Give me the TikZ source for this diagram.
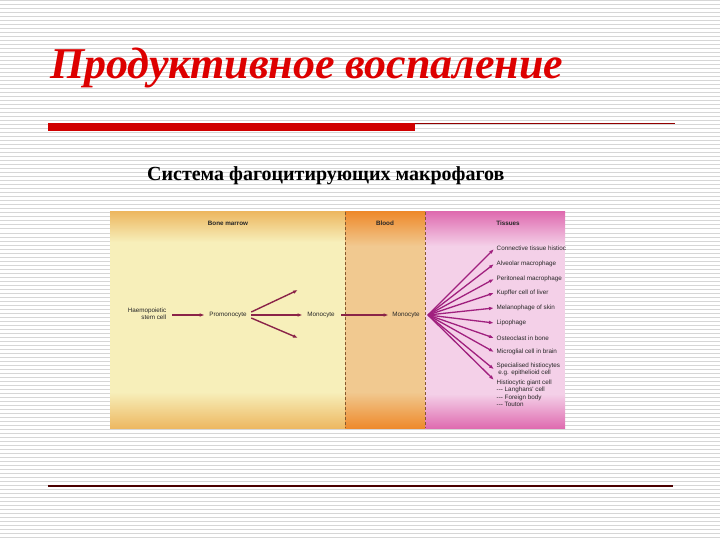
\documentclass[tikz,border=0pt]{standalone}
\usepackage{fontspec}
\setmainfont{Liberation Serif}
\newfontfamily\labelfont{Liberation Sans}
\usetikzlibrary{positioning,arrows.meta}
\definecolor{titlered}{HTML}{DD0000}
\definecolor{barred}{HTML}{D00000}
\definecolor{marrow}{HTML}{F7EFBA}
\definecolor{marrowedge}{HTML}{EDB862}
\definecolor{blood}{HTML}{F1C990}
\definecolor{bloodedge}{HTML}{EE8A2C}
\definecolor{tissue}{HTML}{F4D0E8}
\definecolor{tissueedge}{HTML}{DF6CB0}
\definecolor{arrowred}{HTML}{8A2348}
\definecolor{fanpurple}{HTML}{A0207E}
\tikzset{
  stripe/.style={draw=black!16, line width=1pt},
  lbl/.style={font=\labelfont\fontsize{6.3}{7.4}\selectfont, inner sep=0.5pt, text=black!85},
  zonehead/.style={lbl, font=\labelfont\bfseries\fontsize{6.3}{7.4}\selectfont},
  cellarrow/.style={-{Latex[length=5pt,width=3.6pt]}, line width=1.4pt, draw=arrowred},
  fanarrow/.style={-{Latex[length=5pt,width=3.6pt]}, line width=1.3pt, draw=fanpurple},
  zoneline/.style={draw=brown!70!black, densely dashed, line width=0.5pt}
}
\begin{document}
\begin{tikzpicture}[x=1pt,y=-1pt]
\useasboundingbox (0,0) rectangle (720,540);
\fill[white] (0,0) rectangle (720,540);
\foreach \y in {1,5,...,540}
  \draw[stripe] (0,\y) -- (720,\y);       % фон в полоску

\node[anchor=base west, text=titlered, inner sep=0,
  font=\fontsize{44}{48}\selectfont\bfseries\itshape] (title) at (50,79) {Продуктивное воспаление};
\fill[barred] (48,123) rectangle (415,131);
\draw[barred!70!black, line width=0.8pt] (415,123.5) -- (675,123.5);
\draw[black!70!red, line width=1.2pt] (48,486) -- (673,486);   % линии

\node[anchor=base west, inner sep=0, font=\fontsize{20}{22}\selectfont\bfseries] (subtitle) at (147,181)
  {Система фагоцитирующих макрофагов};

% зоны
\begin{scope}
\clip (110,212) rectangle (565,428);
\fill[marrow] (110,212) rectangle (345,428);
\shade[top color=marrowedge, bottom color=marrow] (110,212) rectangle (345,242);
\shade[top color=marrow, bottom color=marrowedge] (110,392) rectangle (345,428);
\fill[blood] (345,212) rectangle (425,428);
\shade[top color=bloodedge, bottom color=blood] (345,212) rectangle (425,246);
\shade[top color=blood, bottom color=bloodedge] (345,392) rectangle (425,428);
\fill[tissue] (425,212) rectangle (565,428);
\shade[top color=tissueedge, bottom color=tissue] (425,212) rectangle (565,246);
\shade[top color=tissue, bottom color=tissueedge] (425,394) rectangle (565,428);
\draw[zoneline] (345,212) -- (345,428);
\draw[zoneline] (425,212) -- (425,428);

\node[zonehead] (marrowhead) at (228,223) {Bone marrow};
\node[zonehead] (bloodhead) at (385,223) {Blood};
\node[zonehead] (tissuehead) at (508,223) {Tissues};

\node[lbl, align=right, anchor=east] (stem) at (167,314) {Haemopoietic\\stem cell};
\node[lbl] (promono) at (228,315) {Promonocyte};
\node[lbl] (mono) at (321,315) {Monocyte};
\node[lbl] (monoblood) at (406,315) {Monocyte};
\coordinate (upper) at (298,290);
\coordinate (lower) at (298,338);
\coordinate (fan) at (428,315);

\draw[cellarrow] ([xshift=5pt]stem.east |- promono.west) -- ([xshift=-4pt]promono.west);
\draw[cellarrow] ([xshift=4pt,yshift=3pt]promono.east) -- (upper);
\draw[cellarrow] ([xshift=4pt]promono.east) -- ([xshift=-4pt]mono.west);
\draw[cellarrow] ([xshift=4pt,yshift=-3pt]promono.east) -- (lower);
\draw[cellarrow] ([xshift=6pt]mono.east) -- ([xshift=-3pt]monoblood.west);

\foreach \n/\y/\txt in {1/249/Connective tissue histiocyte, 2/264/Alveolar macrophage,
  3/279/Peritoneal macrophage, 4/293/Kupffer cell of liver, 5/308/Melanophage of skin,
  6/323/Lipophage, 7/338/Osteoclast in bone, 8/352/Microglial cell in brain}
{
  \node[lbl, anchor=west] (t\n) at (496,\y) {\txt};
  \draw[fanarrow] (fan) -- ([xshift=-2pt]t\n.west);
};                                   % ткани
\node[lbl, anchor=north west, align=left] (t9) at (496,362) {Specialised histiocytes\\\ e.g. epithelioid cell};
\node[lbl, anchor=north west, align=left] (t10) at (496,379)
  {Histiocytic giant cell\\--- Langhans' cell\\--- Foreign body\\--- Touton};
\draw[fanarrow] (fan) -- ([xshift=-2pt]t9.west);
\draw[fanarrow] (fan) -- ([xshift=-2pt,yshift=-1pt]t10.north west);
\end{scope}
\end{tikzpicture}
\end{document}
